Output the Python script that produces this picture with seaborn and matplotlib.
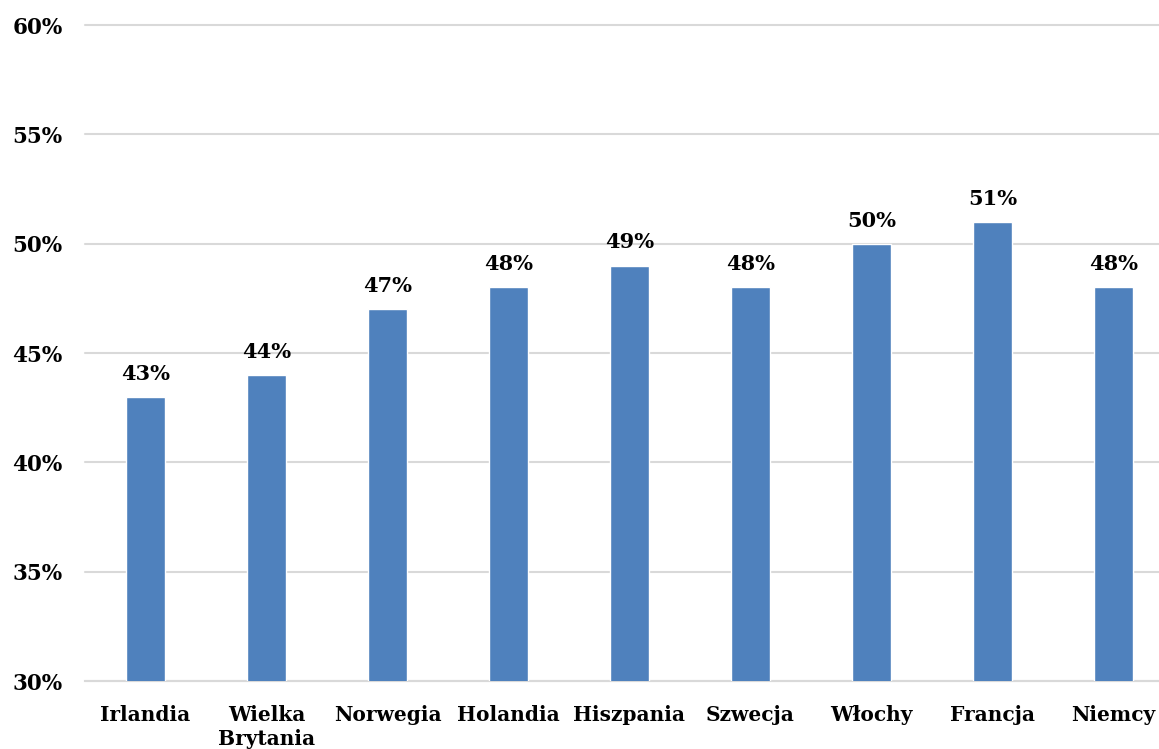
import seaborn as sns
import matplotlib.pyplot as plt
import pandas as pd

# Data
countries = ['Irlandia', 'Wielka\nBrytania', 'Norwegia', 'Holandia', 'Hiszpania',
             'Szwecja', 'Włochy', 'Francja', 'Niemcy']
values = [43, 44, 47, 48, 49, 48, 50, 51, 48]
yticks = [30, 35, 40, 45, 50, 55, 60]

df = pd.DataFrame({'country': countries, 'value': values})

sns.set_style('white')
plt.rcParams['font.family'] = ['DejaVu Serif']
plt.rcParams['font.weight'] = 'bold'

fig = plt.figure(figsize=(11.59, 7.49), dpi=100)
ax = fig.add_axes([85 / 1159, 68 / 749, 1089 / 1159, 656 / 749])

sns.barplot(data=df, x='country', y='value', color='#4F81BD', width=0.33,
            saturation=1, ax=ax, zorder=3)

ax.set_ylim(30, 60)
ax.set_yticks(yticks)
ax.set_yticklabels([f'{t}%' for t in yticks], fontsize=15.5, fontweight='bold',
                   color='black')
ax.yaxis.grid(True, color='#D9D9D9', linewidth=1.5, zorder=0)
for gl in ax.get_ygridlines():
    gl.set_clip_on(False)
ax.tick_params(axis='both', length=0)
ax.tick_params(axis='y', pad=16)
ax.tick_params(axis='x', pad=17)
for lbl in ax.get_xticklabels():
    lbl.set_fontsize(14.5)
    lbl.set_fontweight('bold')
    lbl.set_color('black')
    lbl.set_linespacing(1.3)

for i, v in enumerate(values):
    ax.text(i, v + 0.6, f'{v}%', ha='center', va='bottom', fontsize=15,
            fontweight='bold', color='black')

ax.set_xlabel('')
ax.set_ylabel('')
for s in ['top', 'right', 'left']:
    ax.spines[s].set_visible(False)
ax.spines['bottom'].set_color('#D9D9D9')
ax.spines['bottom'].set_linewidth(1.5)

plt.savefig('out.png', dpi=100)
plt.close()
